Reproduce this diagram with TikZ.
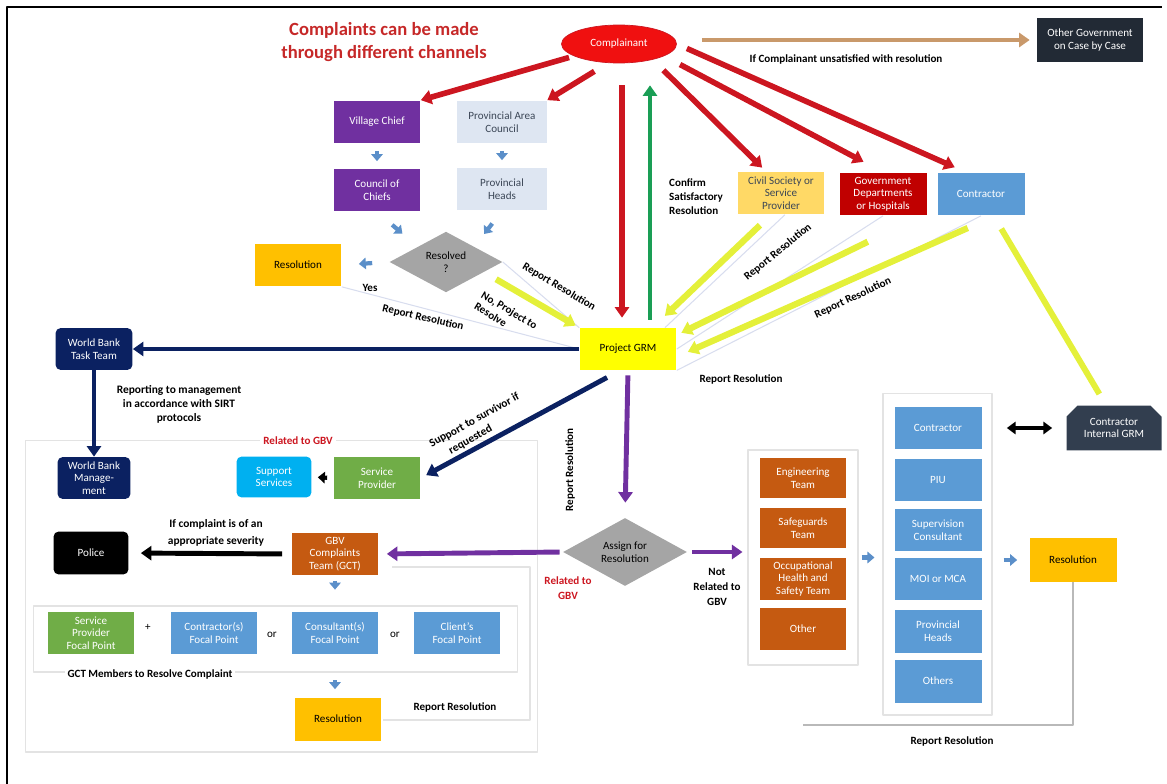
\documentclass[tikz,border=0pt]{standalone}
\usepackage{fontspec}
\setmainfont{Carlito}
\usetikzlibrary{arrows.meta,shapes.geometric,shapes.misc,calc}
\definecolor{cred}{HTML}{CC1620}
\definecolor{cell}{HTML}{F01010}
\definecolor{ctitle}{HTML}{C62828}
\definecolor{cpurple}{HTML}{7030A0}
\definecolor{clight}{HTML}{DEE6F2}
\definecolor{ctxt}{HTML}{3B4656}
\definecolor{cgold}{HTML}{FFC000}
\definecolor{cciv}{HTML}{FFD966}
\definecolor{cgov}{HTML}{C00000}
\definecolor{cblue}{HTML}{5B9BD5}
\definecolor{cgray}{HTML}{A5A5A5}
\definecolor{cgrm}{HTML}{FFFF00}
\definecolor{cnavy}{HTML}{0B2161}
\definecolor{csupp}{HTML}{00B0F0}
\definecolor{cgreen}{HTML}{70AD47}
\definecolor{corange}{HTML}{C55A11}
\definecolor{cdark}{HTML}{222A35}
\definecolor{cgrm2}{HTML}{323E4F}
\definecolor{ctan}{HTML}{C9996B}
\definecolor{cgarr}{HTML}{1A9E55}
\definecolor{cyel}{HTML}{E4F03A}
\definecolor{csmall}{HTML}{5B8FC9}
\definecolor{cfaint}{HTML}{D8DDEE}
\newcommand{\boxfont}{\fontsize{6.3}{7.2}\selectfont}
\newcommand{\lblfont}{\bfseries\fontsize{6.3}{7.6}\selectfont}
\begin{document}
\begin{tikzpicture}[x=0.02cm, y=-0.02cm, font=\boxfont, line join=round,
	>={Triangle[length=6pt,width=8pt]},
	box/.style={minimum width=1.74cm, minimum height=0.86cm, inner sep=1pt, align=center},
	rbox/.style={box, rounded corners=3pt},
	chdiam/.style={diamond, fill=cgray, inner sep=0pt, align=center},
	fbox/.style={draw=gray!22, line width=0.6pt},
	sarr/.style={-{Triangle[length=4pt,width=6.5pt]}, line width=2.4pt, color=csmall},
	redarr/.style={->, line width=3.2pt, color=cred},
	yelarr/.style={->, line width=3.6pt, color=cyel},
	navarr/.style={->, line width=2.8pt, color=cnavy},
	purarr/.style={->, line width=2.8pt, color=cpurple},
	blkarr/.style={->, line width=2.8pt, color=black},
	faint/.style={line width=0.6pt, color=cfaint},
	lbl/.style={font=\lblfont, text=black}]
	\useasboundingbox (0,0) rectangle (1167,784);
	\draw[line width=1.3pt] (7,784) -- (7,7) -- (1162,7);
	% complainant and channels
	\node[font=\bfseries\fontsize{10.6}{12.8}\selectfont, text=ctitle, align=center] (title) at (384,42) {Complaints can be made\\through different channels};
	\node[ellipse, fill=cell, draw=cred, minimum width=2.3cm, minimum height=0.76cm, inner sep=0pt, text=white] (comp) at (619,44) {Complainant};
	\node[box, fill=cdark, text=white, minimum width=2.12cm, minimum height=0.88cm] (othergov) at (1090,40) {Other Government\\on Case by Case};
	\node[box, fill=cpurple, text=white] (vchief) at (377,122) {Village Chief};
	\node[box, fill=cpurple, text=white] (council) at (377,190) {Council of\\Chiefs};
	\node[box, fill=clight, text=ctxt, minimum width=1.8cm] (pac) at (502,122) {Provincial Area\\Council};
	\node[box, fill=clight, text=ctxt, minimum width=1.8cm] (pheads) at (502,189) {Provincial\\Heads};
	\node[chdiam, minimum width=2.26cm, minimum height=1.2cm] (resolved) at (446,262) {Resolved\\?};
	\node[box, fill=cgold] (resol1) at (298,265) {Resolution};
	\node[box, fill=cciv, text=ctxt] (civil) at (781,193) {Civil Society or\\Service\\Provider};
	\node[box, fill=cgov, text=white] (gov) at (883,194) {Government\\Departments\\or Hospitals};
	\node[box, fill=cblue, text=white] (contr) at (981,194) {Contractor};
	\node[box, fill=cgrm, minimum width=1.94cm, minimum height=0.84cm] (grm) at (628,349) {Project GRM};
	\node[rbox, fill=cnavy, text=white, minimum width=1.54cm, minimum height=0.84cm] (wbtt) at (94,349) {World Bank\\Task Team};
	\node[rbox, fill=cnavy, text=white, minimum width=1.46cm, minimum height=0.84cm] (wbmgmt) at (94,478) {World Bank\\Manage-\\ment};
	% GBV side
	\node[fbox, minimum width=10.26cm, minimum height=6.24cm] (gbvbox) at (281.5,596) {};
	\node[fbox, minimum width=9.7cm, minimum height=1.32cm] (gctbox) at (275.5,639) {};
	\draw[fbox] (392,567) -- (530,567) -- (530,720) -- (383,720);
	\node[lbl, text=cred, fill=white, inner sep=2pt] (gbvlbl) at (298,441) {Related to GBV};
	\node[rbox, fill=csupp, text=white, minimum width=1.5cm, minimum height=0.82cm] (supp) at (274,477) {Support\\Services};
	\node[box, fill=cgreen, text=white] (serv) at (377,478) {Service\\Provider};
	\node[box, fill=corange, text=white] (gct) at (335,554) {GBV\\Complaints\\Team (GCT)};
	\node[rbox, fill=black, text=white, minimum width=1.5cm] (police) at (91,553) {Police};
	\node[box, fill=cgreen, text=white, minimum height=0.84cm] (spfp) at (91,633) {Service\\Provider\\Focal Point};
	\node[box, fill=cblue, text=white, minimum height=0.84cm] (cofp) at (214,633) {Contractor(s)\\Focal Point};
	\node[box, fill=cblue, text=white, minimum height=0.84cm] (cnfp) at (335,633) {Consultant(s)\\Focal Point};
	\node[box, fill=cblue, text=white, minimum height=0.84cm] (clfp) at (457,633) {Client's\\Focal Point};
	\node (plus) at (148,627) {+};
	\node (or1) at (272,635) {or};
	\node (or2) at (395,635) {or};
	\node[lbl, fill=white, inner sep=1.5pt] (gctlbl) at (150,674) {GCT Members to Resolve Complaint};
	\node[box, fill=cgold] (resgbv) at (338,719) {Resolution};
	\node[lbl] (rr1) at (455,707) {Report Resolution};
	\node[chdiam, minimum width=2.48cm, minimum height=1.18cm] (assign) at (625,552) {Assign for\\Resolution};
	% technical side
	\node[fbox, minimum width=2.2cm, minimum height=4.3cm] (techbox) at (803,557.5) {};
	\node[box, fill=corange, text=white, minimum height=0.82cm] (eng) at (803,478) {Engineering\\Team};
	\node[box, fill=corange, text=white, minimum height=0.82cm] (safe) at (803,528) {Safeguards\\Team};
	\node[box, fill=corange, text=white, minimum height=0.84cm] (ohs) at (803,579) {Occupational\\Health and\\Safety Team};
	\node[box, fill=corange, text=white, minimum height=0.84cm] (other) at (803,629) {Other};
	\node[fbox, minimum width=2.18cm, minimum height=6.44cm] (listbox) at (937.5,554) {};
	\node[box, fill=cblue, text=white] (contr2) at (938,428) {Contractor};
	\node[box, fill=cblue, text=white] (piu) at (938,480) {PIU};
	\node[box, fill=cblue, text=white] (supc) at (938,530) {Supervision\\Consultant};
	\node[box, fill=cblue, text=white] (moi) at (938,579) {MOI or MCA};
	\node[box, fill=cblue, text=white] (phead2) at (938,631) {Provincial\\Heads};
	\node[box, fill=cblue, text=white] (others) at (938,681) {Others};
	\node[box, fill=cgold, minimum height=0.88cm] (resr) at (1073,560) {Resolution};
	\node[chamfered rectangle, chamfered rectangle corners={north west,north east}, fill=cgrm2, text=white, minimum width=1.9cm, minimum height=0.9cm, align=center, inner sep=1pt] (cigrm) at (1114,428) {Contractor\\Internal GRM};
	\coordinate (rrend) at (803,725);
	% connectors from complainant
	\draw[->, line width=2.3pt, ctan, shorten <=0.5cm, shorten >=0.14cm] (comp.east |- othergov) -- (othergov)
		node[lbl, pos=0.47, below=4pt] {If Complainant unsatisfied with resolution};
	\draw[redarr, shorten <=0.1cm] (comp.195) -- (vchief.north east);
	\draw[redarr, shorten <=0.32cm] (comp.240) -- (pac.north east);
	\draw[redarr, shorten <=0.3cm, shorten >=0.1cm] (comp.335) -- (civil.125);
	\draw[redarr, shorten <=0.36cm, shorten >=0.44cm] (comp.345) -- (gov.north);
	\draw[redarr, shorten <=0.22cm, shorten >=0.24cm] (comp.east) -- (contr.125);
	\draw[redarr, shorten <=0.44cm, shorten >=0.2cm] ([xshift=-0.12cm]grm.north |- comp.south) -- ([xshift=-0.12cm]grm.north);
	\draw[->, line width=2.4pt, cgarr, shorten <=0.16cm, shorten >=0.44cm] ([xshift=0.44cm]grm.north) -- ([xshift=0.44cm]grm.north |- comp.south);
	\node[lbl, anchor=west, align=left, font=\bfseries\fontsize{6.3}{8}\selectfont] (conf) at (663,197) {Confirm\\Satisfactory\\Resolution};
	% local channel
	\draw[sarr, shorten <=0.14cm, shorten >=0.14cm] (vchief) -- (council);
	\draw[sarr, shorten <=0.14cm, shorten >=0.14cm] (pac) -- (pheads);
	\draw[sarr, shorten <=0.4cm, shorten >=0.4cm] (council.south) -- (resolved.north west);
	\draw[sarr, shorten <=0.32cm, shorten >=0.32cm] (pheads.south) -- (resolved.north east);
	\draw[sarr, shorten <=0.34cm, shorten >=0.34cm] (resolved.west) -- (resol1.east);
	\node[lbl] (yes) at (370,288) {Yes};
	\draw[faint] (resol1.south east) -- (grm.west);
	\draw[faint] (resolved.east) -- (grm.north west);
	\draw[yelarr, shorten <=0.28cm, shorten >=0.08cm] (resolved.-15) -- (grm.north west);
	\node[lbl, rotate=-13] at (423,318) {Report Resolution};
	\node[lbl, rotate=-31] at (559,287) {Report Resolution};
	\node[lbl, rotate=-31, align=left] at (506,316) {No, Project to\\Resolve};
	% report resolution back to project GRM
	\draw[faint] (civil.280) -- (grm.30);
	\draw[faint] (gov.south) -- (grm.east);
	\draw[faint] (contr.south) -- (grm.south east);
	\draw[yelarr, shorten <=0.3cm, shorten >=0.34cm] (civil.245) -- (grm.41);
	\draw[yelarr, shorten <=1.18cm, shorten >=0.1cm] (gov.330) -- (grm.16);
	\draw[yelarr, shorten <=0.6cm, shorten >=0.24cm] (contr.303) -- (grm.351);
	\draw[line width=3.4pt, cyel, shorten <=0.26cm, shorten >=0.3cm] ([xshift=-0.16cm]cigrm.north) -- (contr.300);
	\node[lbl, rotate=39] at (778,252) {Report Resolution};
	\node[lbl, rotate=25] at (853,298) {Report Resolution};
	\node[lbl] at (741,379) {Report Resolution};
	% world bank
	\draw[navarr] (grm.west) -- (wbtt.east);
	\draw[navarr] (wbtt.south) -- (wbmgmt.north);
	\node[lbl, align=center, font=\bfseries\fontsize{6.5}{8}\selectfont] (sirt) at (179,404) {Reporting to management\\in accordance with SIRT\\protocols};
	\draw[navarr, shorten <=0.3cm, shorten >=0.12cm] (grm.250) -- (serv.east);
	\node[lbl, rotate=29, align=left, font=\bfseries\fontsize{6.5}{8.5}\selectfont] at (478,427) {Support to survivor if\\\hspace{1.2em}requested};
	\draw[sarr, black, shorten <=0.12cm, shorten >=0.12cm] (serv.west) -- (supp.east);
	% assignment
	\draw[purarr, shorten <=0.1cm, shorten >=0.3cm] (grm.south) -- (assign.north);
	\node[lbl, rotate=90] at (570,470) {Report Resolution};
	\draw[purarr, shorten <=0.06cm, shorten >=0.16cm] (assign.west) -- (gct.east);
	\draw[purarr, shorten <=0.1cm, shorten >=0.1cm] (assign.east) -- (assign.east -| techbox.west);
	\node[lbl, text=cred, align=center, font=\bfseries\fontsize{6.3}{8.5}\selectfont] at (568,588) {Related to\\GBV};
	\node[lbl, align=center, font=\bfseries\fontsize{6.3}{8.5}\selectfont] at (717,587) {Not\\Related to\\GBV};
	\draw[blkarr, shorten <=0.18cm, shorten >=0.24cm] (gct.west) -- (police.east);
	\node[lbl, align=center, font=\bfseries\fontsize{6.5}{9.5}\selectfont] at (216,533) {If complaint is of an\\appropriate severity};
	\draw[sarr, shorten <=0.1cm, shorten >=0.44cm] (gct.south) -- (cnfp.north);
	\draw[sarr, shorten <=0.52cm, shorten >=0.16cm] (cnfp.south) -- (cnfp.south |- resgbv.north);
	% technical resolution
	\draw[sarr, shorten <=0.06cm, shorten >=0.16cm] (techbox.east) -- (techbox.east -| listbox.west);
	\draw[sarr, shorten <=0.22cm, shorten >=0.24cm] (listbox.east |- resr) -- (resr.west);
	\draw[<->, line width=2.2pt, >={Triangle[length=5pt,width=7pt]}, shorten <=0.5cm, shorten >=0.28cm] (contr2.east) -- (cigrm.west);
	\draw[gray!55, line width=0.8pt] (resr.south) |- (rrend);
	\node[lbl] at (952,741) {Report Resolution};
\end{tikzpicture}
\end{document}
